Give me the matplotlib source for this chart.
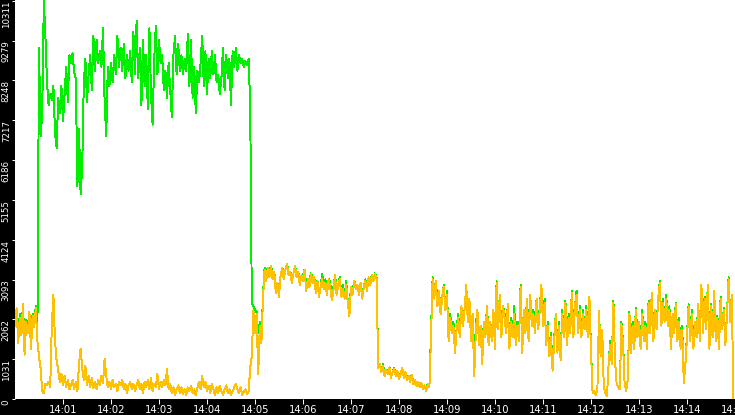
import matplotlib
matplotlib.use("Agg")
import matplotlib.pyplot as plt
from matplotlib import font_manager
import numpy as np

# sample interval: 2 seconds, starting 14:00:00
SAMPLE_SEC = 2

x_tick_labels = ["14:01", "14:02", "14:03", "14:04", "14:05", "14:06", "14:07", "14:08",
                 "14:09", "14:10", "14:11", "14:12", "14:13", "14:14", "14:15"]
y_tick_values = [0, 1031, 2062, 3093, 4124, 5155, 6186, 7217, 8248, 9279, 10311]

# ---- orange series ----
orange_a = [1900, 2350, 1450, 2100, 1650, 2450, 1150, 2000, 1700, 2250, 1300, 2150, 1850, 2350, 1500]
orange_b = [1100, 800, 200, 150, 400, 350, 450, 300, 1900, 2700,
            1500, 1000, 750, 450, 650, 350, 600, 300, 500, 250,
            350, 500, 250, 450, 200, 900, 1300, 800, 500, 850,
            350, 600, 300, 550, 280, 450, 260, 500, 350, 600,
            400, 1050, 600, 300, 450, 250, 500, 300, 400, 200,
            450, 350, 500, 250, 400, 150, 350, 450, 250, 400,
            200, 350, 500, 250, 400, 150, 450, 300, 500, 250,
            550, 200, 400, 300, 650, 250, 450, 300, 500, 350,
            780, 250, 400, 150, 300, 100, 250, 350, 150, 300,
            120, 250, 100, 300, 200, 350, 150, 250, 100, 300,
            450, 250, 600, 300, 450, 200, 350, 150, 400, 250,
            100, 300, 150, 350, 200, 100, 250, 350, 150, 250,
            100, 200, 300, 390, 250, 150, 300, 100, 200, 250,
            120, 200, 800]
orange_t = [1100, 2300, 1700, 2200, 650, 1900, 1450]
orange_c = [2600, 3350, 3050, 3400, 3150, 3450, 3100, 3300, 2750, 3000,
            2650, 3200, 3400, 3100, 3350, 3500, 3200, 3300, 3000, 3250,
            3450, 3150, 3300, 2950, 3200, 3050, 3350, 2800, 3100, 2900,
            3250, 3000, 3150, 2750, 3050, 2650, 2900, 3100, 2850, 3000,
            2700, 3100, 2900, 2550, 2800, 3200, 2700, 2950, 3100, 2650,
            2850, 2600, 2950, 2500, 2150, 2900, 2700, 3050, 2850, 2950,
            2700, 3000, 2600, 2900, 3050, 2800, 3150, 2950, 3200, 3050,
            3250, 3100]
orange_d = [800, 900, 700, 850, 600, 750, 650, 820, 550, 700,
            780, 600, 720, 520, 650, 800, 550, 700, 480, 600,
            450, 620, 380, 500, 330, 450, 300, 420, 250, 350,
            200, 400, 300]
orange_e = [1600, 3100, 2600, 3050, 2400, 2800, 2200, 2650, 2900, 2300,
            2700, 1500, 2100, 1700, 1900, 1200, 1800, 2100, 1600, 2400,
            1900, 2300, 2950, 2000, 2600, 1500, 2200, 600, 1700, 2300,
            1400, 1900, 900, 2000, 1600, 2400, 1400, 2000, 1500, 2300,
            1300, 3000, 1800, 2700, 1600, 2400, 2100, 1700, 2450, 1300,
            2000, 1600, 2200, 1400, 1900, 1500, 2900, 1200, 2300, 1700,
            2600, 1500, 2700, 1900, 2200, 1700, 2600, 1800, 2300, 2950,
            1900, 2500, 1400, 1900, 1100, 1600, 730, 1500, 2200, 1200,
            1900, 1000, 2200, 1600, 2500, 1400, 2100, 1700, 2750, 1600,
            2400, 2700, 1700, 2300, 1600, 2200, 1800, 2300, 1600, 2650,
            1200, 150, 200, 100, 250, 2280, 1100, 1800, 300, 150,
            80, 900, 1400, 900, 2500, 1000, 400, 300, 250, 1950,
            1450, 400, 200, 500, 2200, 1200, 1900, 1300, 2300, 1600,
            2000, 1300, 2200, 1500, 1900, 1300, 2500, 1700, 2750, 1500,
            2300, 1800, 2600, 3000, 1900, 2500, 2000, 2600, 1900, 2300,
            1300, 2200, 1700, 2450, 1500, 2000, 1300, 1800, 400, 900,
            1600, 2400, 1500, 2200, 1300, 2000, 1600, 2450, 1500, 2950,
            1700, 2600, 1800, 2950, 1300, 2400, 1600, 2800, 1500, 2100,
            1300, 2600, 1800, 2300, 1400, 2200, 3100, 2000, 2700, 0]

# ---- green series ----
green_a = [2050, 2350, 1650, 2200, 1800, 2450, 1350, 2050, 1850, 2250, 1500, 2200, 1950, 2400, 1700]
green_b = [9090, 6800, 7400, 10300, 9400, 8200, 7600, 7900, 7750, 8100,
           6900, 6500, 7800, 7400, 8100, 7200, 7900, 8600, 7700, 8900,
           8700, 8950, 8450, 8300, 5500, 7000, 5300, 6000, 8200, 8800,
           7700, 8400, 8900, 8000, 9400, 8500, 9300, 8700, 9000, 8600,
           9600, 7700, 6800, 8600, 8100, 8700, 8200, 8900, 8400, 9400,
           8600, 9100, 8500, 9200, 8300, 8900, 8500, 9000, 8200, 9500,
           8400, 9800, 8300, 9100, 7600, 9300, 8100, 8900, 7500, 9600,
           7900, 7100, 8800, 9650, 8400, 9300, 8700, 8900, 8000, 8500,
           7800, 8700, 8000, 7300, 8900, 9400, 8400, 9200, 8500, 8900,
           8400, 8800, 8500, 9450, 8100, 9300, 7800, 8600, 7400, 8500,
           8200, 8700, 9400, 8100, 9000, 7900, 8800, 8300, 9000, 8400,
           8900, 8200, 8400, 7900, 8300, 9100, 8000, 8900, 8300, 8800,
           7600, 9000, 8600, 9100, 8500, 8900, 8700, 8800, 8600, 8750,
           8650, 8800, 7600]
green_t = [2500, 2400, 2300, 2250, 1700, 2000, 1500]
green_c = [2700, 3400, 3250, 3400, 3300, 3450, 3250, 3300, 2900, 3000,
           2800, 3200, 3400, 3250, 3350, 3500, 3300, 3300, 3150, 3250,
           3450, 3250, 3300, 3100, 3200, 3200, 3350, 2950, 3100, 3050,
           3250, 3150, 3150, 2900, 3050, 2800, 2900, 3250, 2850, 3100,
           2700, 3100, 3050, 2550, 2900, 3200, 2850, 2950, 3150, 2650,
           2950, 2600, 3050, 2500, 2400, 2900, 2800, 3050, 2950, 2950,
           2800, 3000, 2700, 2900, 3100, 2800, 3150, 3000, 3200, 3100,
           3250, 3150]
green_d = [850, 900, 750, 900, 650, 750, 700, 820, 600, 700,
           800, 650, 720, 580, 650, 800, 600, 700, 520, 600,
           500, 620, 420, 500, 380, 450, 330, 420, 300, 350,
           250, 400, 330]
green_e = [1700, 3150, 2700, 3050, 2550, 2800, 2300, 2650, 2950, 2300,
           2800, 1500, 2200, 1700, 2000, 1300, 1800, 2200, 1600, 2400,
           2000, 2300, 2950, 2150, 2600, 1700, 2200, 700, 1900, 2300,
           1600, 1900, 1100, 2000, 1700, 2400, 1600, 2000, 1600, 2300,
           1400, 3050, 1900, 2700, 1800, 2400, 2200, 1800, 2450, 1400,
           2100, 1600, 2400, 1400, 2000, 1600, 2950, 1300, 2300, 1900,
           2600, 1700, 2700, 2000, 2300, 1800, 2600, 1900, 2400, 2950,
           1900, 2600, 1400, 2000, 1100, 1700, 730, 1600, 2200, 1300,
           2000, 1000, 2300, 1600, 2550, 1400, 2200, 1700, 2800, 1700,
           2400, 2800, 1700, 2400, 1600, 2300, 1800, 2400, 1700, 2650,
           1300, 150, 200, 100, 250, 2280, 1200, 1800, 300, 150,
           80, 900, 1500, 900, 2550, 1000, 400, 300, 250, 2000,
           1500, 400, 200, 500, 2250, 1200, 2000, 1300, 2350, 1700,
           2000, 1400, 2300, 1500, 2000, 1300, 2550, 1800, 2750, 1600,
           2300, 1900, 2600, 3050, 1900, 2600, 2000, 2700, 1900, 2400,
           1400, 2200, 1800, 2500, 1500, 2100, 1300, 1900, 400, 900,
           1700, 2450, 1500, 2300, 1400, 2000, 1700, 2450, 1600, 2950,
           1800, 2650, 1900, 2950, 1400, 2450, 1700, 2800, 1600, 2150,
           1400, 2650, 1800, 2350, 1500, 2200, 3150, 2100, 2700, 0]

orange = orange_a + orange_b + orange_t + orange_c + orange_d + orange_e
green = green_a + green_b + green_t + green_c + green_d + green_e
t = np.arange(len(orange)) * SAMPLE_SEC


def has_font(name):
    try:
        font_manager.findfont(font_manager.FontProperties(family=name),
                              fallback_to_default=False)
        return True
    except Exception:
        return False


# narrow font for the rotated y labels, if available
if has_font("Liberation Sans Narrow"):
    y_font, y_size = "Liberation Sans Narrow", 7.2
elif has_font("DejaVu Sans Condensed"):
    y_font, y_size = "DejaVu Sans Condensed", 6.6
else:
    y_font, y_size = "DejaVu Sans", 6.2

W, H = 735, 415
fig = plt.figure(figsize=(W / 100, H / 100), dpi=100, facecolor="black")
ax = fig.add_axes([15 / W, 16 / H, 720 / W, 399 / H])
ax.set_facecolor("white")
for s in ax.spines.values():
    s.set_visible(False)

ax.plot(t, green, color="#00EE00", lw=0.7, antialiased=False, zorder=2)
ax.plot(t, orange, color="#FFC000", lw=0.7, antialiased=False, zorder=3)

ax.set_xlim(0, 900)
ax.set_ylim(0, 10330)

xt = [60 * (k + 1) for k in range(len(x_tick_labels))]
ax.set_xticks(xt)
ax.set_xticklabels(x_tick_labels, family="DejaVu Sans", fontsize=7.2, color="white")
ax.tick_params(axis="x", direction="out", length=3.6, width=0.75, color="white", pad=1)

ax.set_yticks(y_tick_values)
ax.set_yticklabels([str(v) for v in y_tick_values],
                   family=[y_font, "DejaVu Sans"], fontsize=y_size,
                   color="white", rotation=90, va="top", ha="right")
ax.tick_params(axis="y", direction="out", length=2.2, width=0.75, color="white", pad=0.8)

fig.savefig("out.png", dpi=100, facecolor="black")
